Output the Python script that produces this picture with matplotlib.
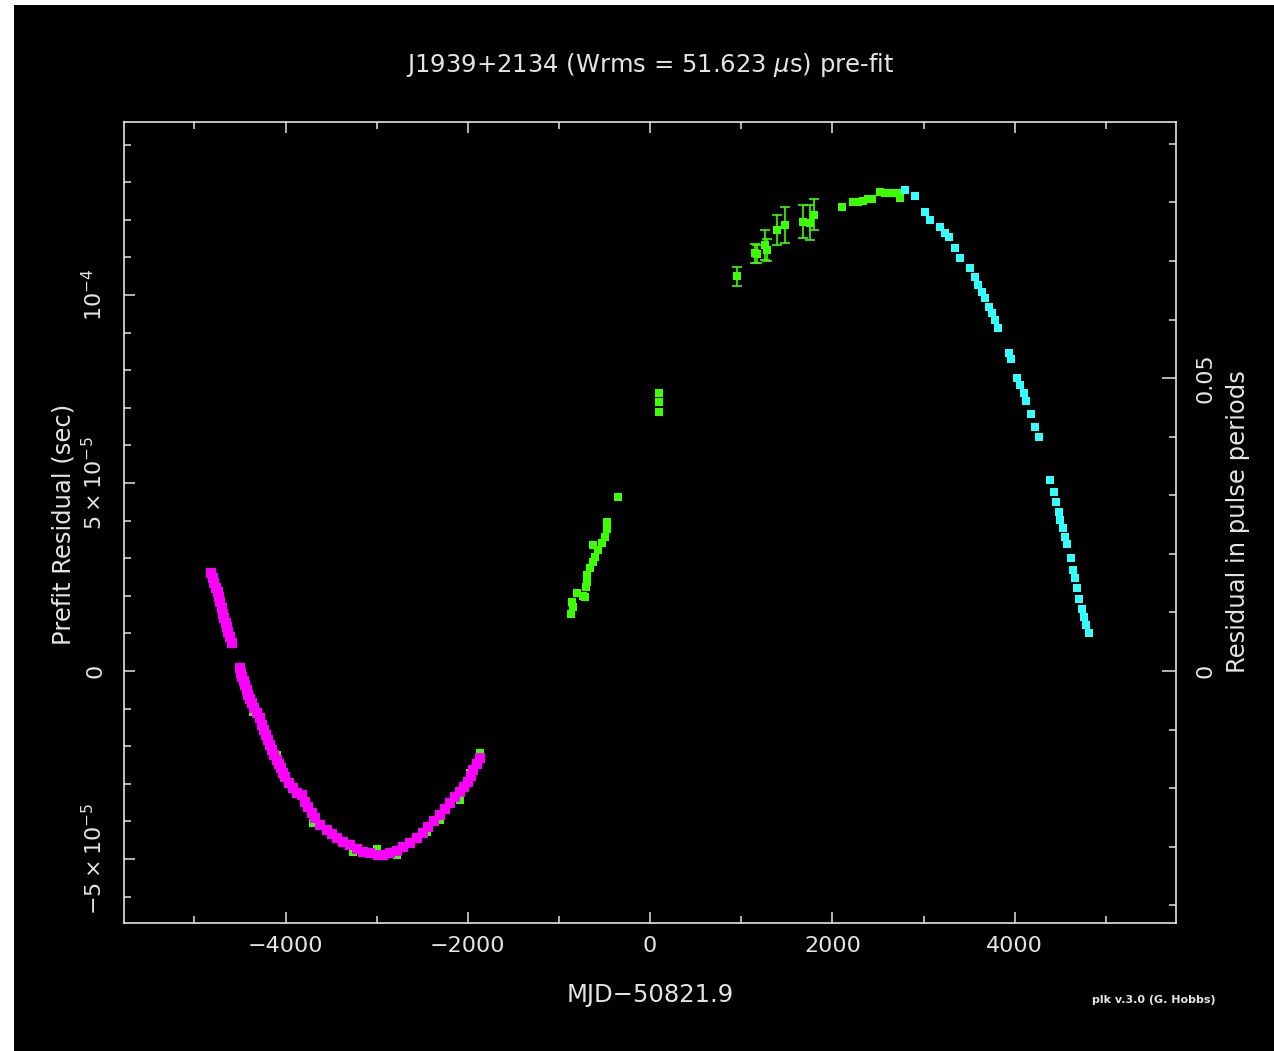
import numpy as np
import matplotlib
matplotlib.use("Agg")
import matplotlib.pyplot as plt
from matplotlib.patches import Rectangle
from matplotlib.ticker import MultipleLocator, FixedLocator

# ---------------- data (x: MJD-50821.9 in days, y: residual in units of 1e-5 s) ----------------
SCALE = 1e-5
PERIOD = 0.0015578  # s, pulse period used for right-hand axis

magenta_x = [-4818, -4799, -4781, -4763, -4744, -4730, -4719, -4700, -4683, -4672, -4656, -4642,
             -4628, -4609, -4584, -4499, -4488, -4474, -4459, -4444, -4426, -4408, -4390, -4371,
             -4342, -4316, -4280, -4255, -4233, -4211, -4189, -4167, -4145, -4123, -4097, -4071,
             -4049, -4027, -4005, -3961, -3914, -3877, -3822, -3786, -3750, -3713, -3676, -3621,
             -3548, -3493, -3438, -3366, -3292, -3219, -3146, -3073, -2982, -2927, -2853, -2780,
             -2707, -2634, -2560, -2494, -2433, -2370, -2305, -2250, -2195, -2140, -2085, -2038,
             -1994, -1968, -1939, -1902, -1866]
magenta_y = [2.60, 2.47, 2.35, 2.22, 2.09, 1.96, 1.84, 1.68, 1.53, 1.40, 1.28, 1.16,
             1.05, 0.90, 0.74, 0.07, -0.05, -0.15, -0.26, -0.37, -0.51, -0.64, -0.75, -0.86,
             -0.99, -1.12, -1.26, -1.44, -1.57, -1.70, -1.84, -1.97, -2.10, -2.23, -2.37, -2.47,
             -2.59, -2.70, -2.81, -2.97, -3.12, -3.24, -3.30, -3.48, -3.61, -3.77, -3.92, -4.10,
             -4.23, -4.34, -4.45, -4.54, -4.63, -4.72, -4.81, -4.85, -4.89, -4.90, -4.85, -4.78,
             -4.67, -4.57, -4.45, -4.30, -4.14, -3.99, -3.83, -3.68, -3.52, -3.36, -3.21, -3.08,
             -2.94, -2.79, -2.63, -2.47, -2.32]

# green points hidden mostly beneath the magenta curve
green_low_x = [-4784, -4755, -4683, -4426, -4353, -4269, -4097, -3976, -3695, -3475, -3256,
               -2999, -2780, -2451, -2305, -2085, -1975, -1866]
green_low_y = [2.51, 2.24, 1.40, -0.59, -1.08, -1.39, -2.23, -2.99, -4.05, -4.36, -4.81,
               -4.72, -4.89, -4.27, -3.96, -3.43, -2.72, -2.17]

# green points in the middle
green_mid_x = [-870, -859, -841, -804, -732, -713, -702, -695, -695, -658, -629, -622, -604,
               -567, -530, -494, -476, -476, -355, 102, 102, 102]
green_mid_y = [1.53, 1.84, 1.71, 2.07, 2.00, 1.98, 2.24, 2.37, 2.55, 2.73, 3.35, 2.91, 3.04,
               3.22, 3.40, 3.57, 3.79, 3.97, 4.62, 6.90, 7.16, 7.40]

# green points with error bars
green_err_x = [958, 1152, 1171, 1262, 1280, 1397, 1481, 1683, 1749, 1800]
green_err_y = [10.50, 11.11, 11.09, 11.33, 11.20, 11.73, 11.86, 11.95, 11.92, 12.13]
green_err_e = [0.25, 0.25, 0.24, 0.41, 0.30, 0.41, 0.49, 0.43, 0.47, 0.41]

# green points near the top
green_top_x = [2103, 2231, 2286, 2341, 2396, 2433, 2524, 2579, 2615, 2652, 2707, 2743]
green_top_y = [12.33, 12.48, 12.47, 12.50, 12.55, 12.54, 12.75, 12.70, 12.70, 12.70, 12.70, 12.59]

cyan_x = [2798, 2908, 3018, 3073, 3182, 3237, 3274, 3347, 3402, 3512, 3567, 3603, 3640, 3676,
          3713, 3750, 3786, 3822, 3943, 3962, 4031, 4060, 4097, 4126, 4178, 4225, 4262, 4390,
          4426, 4455, 4481, 4499, 4529, 4554, 4572, 4616, 4645, 4664, 4689, 4711, 4741, 4763,
          4785, 4810]
cyan_y = [12.79, 12.64, 12.22, 11.99, 11.82, 11.64, 11.55, 11.24, 10.98, 10.71, 10.49, 10.27,
          10.09, 9.91, 9.69, 9.51, 9.34, 9.11, 8.45, 8.29, 7.78, 7.61, 7.39, 7.19, 6.84, 6.50,
          6.23, 5.08, 4.77, 4.50, 4.24, 4.02, 3.80, 3.57, 3.38, 3.00, 2.69, 2.47, 2.20, 1.91,
          1.64, 1.44, 1.22, 1.00]

title = "J1939+2134 (Wrms = 51.623 $\\mu$s) pre-fit"
xlabel = "MJD\u221250821.9"
ylabel = "Prefit Residual (sec)"
ylabel_right = "Residual in pulse periods"
credit = "plk v.3.0 (G. Hobbs)"
xticks = [-4000, -2000, 0, 2000, 4000]
xtick_labels = ["\u22124000", "\u22122000", "0", "2000", "4000"]
yticks = [-5e-5, 0, 5e-5, 1e-4]
ytick_labels = [r"$-5\times10^{-5}$", "0", r"$5\times10^{-5}$", r"$10^{-4}$"]
rticks = [0, 0.05]
rtick_labels = ["0", "0.05"]

# ---------------- style ----------------
W, H = 1274, 1051
FG = "#e4e4e4"
MAG = "#ff00ff"
GRN = "#3cff00"
CYN = "#33ffff"
FS = 16
LFS = 17.5

plt.rcParams["font.family"] = ["DejaVu Sans"]
plt.rcParams["mathtext.fontset"] = "dejavusans"

fig = plt.figure(figsize=(W / 100, H / 100), dpi=100, facecolor="white")
fig.patches.append(Rectangle((14 / W, 0), 1 - 14 / W, (H - 5) / H, transform=fig.transFigure,
                             facecolor="black", edgecolor="none", zorder=-10))

ax = fig.add_axes([124 / W, (H - 923) / H, (1176 - 124) / W, (923 - 122) / H])
ax.set_facecolor("black")
xlim = (-5772, 5770)
ylim = (-6.70e-5, 1.460e-4)
ax.set_xlim(*xlim)
ax.set_ylim(*ylim)

ms = 5.6
ax.plot(np.array(green_low_x), np.array(green_low_y) * SCALE, "s", color=GRN, ms=ms + 0.4, mew=0, zorder=2)
ax.plot(np.array(magenta_x), np.array(magenta_y) * SCALE, "s", color=MAG, ms=ms + 1.4, mew=0, zorder=3)
ax.plot(np.array(green_mid_x), np.array(green_mid_y) * SCALE, "s", color=GRN, ms=ms, mew=0, zorder=2)
ax.errorbar(np.array(green_err_x), np.array(green_err_y) * SCALE, yerr=np.array(green_err_e) * SCALE,
            fmt="none", ecolor=GRN, elinewidth=1.2, capsize=3.5, capthick=1.2, zorder=2)
ax.plot(np.array(green_err_x), np.array(green_err_y) * SCALE, "s", color=GRN, ms=ms, mew=0, zorder=2)
ax.plot(np.array(green_top_x), np.array(green_top_y) * SCALE, "s", color=GRN, ms=ms, mew=0, zorder=2)
ax.plot(np.array(cyan_x), np.array(cyan_y) * SCALE, "s", color=CYN, ms=ms, mew=0, zorder=3)

for sp in ax.spines.values():
    sp.set_color(FG)
    sp.set_linewidth(1.2)

ax.xaxis.set_major_locator(FixedLocator(xticks))
ax.xaxis.set_minor_locator(MultipleLocator(1000))
ax.set_xticklabels(xtick_labels)
ax.yaxis.set_major_locator(FixedLocator(yticks))
ax.yaxis.set_minor_locator(MultipleLocator(1e-5))
ax.set_yticklabels(ytick_labels, rotation=90, va="center")

ax.tick_params(axis="both", which="both", direction="in", colors=FG, labelsize=FS, width=1.1)
ax.tick_params(axis="x", which="both", top=True, bottom=True)
ax.tick_params(axis="y", which="both", left=True, right=False)
ax.tick_params(which="major", length=8)
ax.tick_params(which="minor", length=5)
ax.tick_params(axis="x", which="major", pad=9)
ax.tick_params(axis="y", which="major", pad=13)

ax2 = ax.twinx()
ax2.set_ylim(ylim[0] / PERIOD, ylim[1] / PERIOD)
ax2.yaxis.set_major_locator(FixedLocator(rticks))
ax2.yaxis.set_minor_locator(MultipleLocator(0.01))
ax2.set_yticklabels(rtick_labels, rotation=90, va="center")
ax2.tick_params(axis="y", which="both", direction="in", colors=FG, labelsize=FS, width=1.1)
ax2.tick_params(which="major", length=10, pad=14)
ax2.tick_params(which="minor", length=5)
for sp in ax2.spines.values():
    sp.set_visible(False)

fig.text(650 / W, 1 - 65 / H, title, color=FG, fontsize=LFS, ha="center", va="center")
fig.text(650 / W, 1 - 995 / H, xlabel, color=FG, fontsize=LFS, ha="center", va="center")
fig.text(63 / W, 1 - 524 / H, ylabel, color=FG, fontsize=LFS, ha="center", va="center", rotation=90)
fig.text(1238 / W, 1 - 522 / H, ylabel_right, color=FG, fontsize=LFS, ha="center", va="center", rotation=90)
fig.text(1154 / W, 1 - 1000 / H, credit, color=FG, fontsize=8, ha="center", va="center", fontweight="bold")

fig.savefig("out.png", dpi=100, facecolor="white")
